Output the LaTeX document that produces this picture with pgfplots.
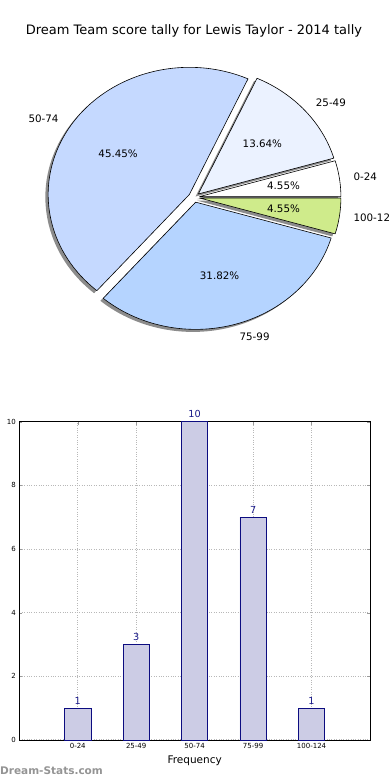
\documentclass[border=0pt]{standalone}
\usepackage{pgfplots}
\pgfplotsset{compat=1.18}
\usepackage{pgfplotstable}
\usepackage{fontspec}
\setmainfont{DejaVu Sans}
\definecolor{pieA}{HTML}{FFFFFF}
\definecolor{pieB}{HTML}{EBF2FF}
\definecolor{pieC}{HTML}{C5D9FF}
\definecolor{pieD}{HTML}{B5D4FF}
\definecolor{pieE}{HTML}{CFEB8B}
\definecolor{barfill}{HTML}{CCCCE5}
\definecolor{baredge}{HTML}{0C0C80}
\definecolor{valblue}{HTML}{1A1A8A}
\definecolor{shadowgray}{HTML}{8C8C8C}

\pgfplotstableread{
label count color
0-24 1 pieA
25-49 3 pieB
50-74 10 pieC
75-99 7 pieD
100-124 1 pieE
}\piedata

\pgfplotstableread{
x count
0 1
1 3
2 10
3 7
4 1
}\bardata

\def\rx{141.2pt}
\def\ry{127.2pt}
\def\expl{0.04}

\begin{document}
\begin{tikzpicture}
\coordinate (pieSW) at (0pt,423.7pt);
\coordinate (barSW) at (19.3pt,40pt);
\node[anchor=base, font=\fontsize{13}{15}\selectfont] at (194pt,745.5pt) {Dream Team score tally for Lewis Taylor - 2014 tally};

% total of counts
\gdef\pietotal{0}
\pgfplotstableforeachcolumnelement{count}\of\piedata\as\c{%
  \pgfmathsetmacro\t{\pietotal+\c}\xdef\pietotal{\t}}

\begin{axis}[at={(pieSW)}, anchor=south west, scale only axis,
  width=389.9pt, height=318pt,
  xmin=-1.375, xmax=1.387, ymin=-1.25, ymax=1.25, hide axis, clip=false]
\pgfplotsextra{%
  % shadows
  \gdef\piecum{0}%
  \foreach \i in {0,...,4}{%
    \pgfplotstablegetelem{\i}{count}\of\piedata \let\cnt\pgfplotsretval
    \pgfmathsetmacro{\a}{\piecum}%
    \pgfmathsetmacro{\b}{\piecum+360*\cnt/\pietotal}%
    \pgfmathsetmacro{\m}{(\a+\b)/2}%
    \pgfmathsetmacro{\ox}{\expl*cos(\m)-0.02}%
    \pgfmathsetmacro{\oy}{\expl*sin(\m)-0.02}%
    \xdef\piecum{\b}%
    \fill[shadowgray] (axis cs:\ox,\oy) -- ++({cos(\a)*\rx},{sin(\a)*\ry})
      arc[start angle=\a, end angle=\b, x radius=\rx, y radius=\ry] -- cycle;
  }%
  % wedges
  \gdef\piecum{0}%
  \foreach \i in {0,...,4}{%
    \pgfplotstablegetelem{\i}{count}\of\piedata \let\cnt\pgfplotsretval
    \pgfplotstablegetelem{\i}{color}\of\piedata \let\col\pgfplotsretval
    \pgfplotstablegetelem{\i}{label}\of\piedata \let\lab\pgfplotsretval
    \pgfmathsetmacro{\a}{\piecum}%
    \pgfmathsetmacro{\b}{\piecum+360*\cnt/\pietotal}%
    \pgfmathsetmacro{\m}{(\a+\b)/2}%
    \pgfmathsetmacro{\ox}{\expl*cos(\m)}%
    \pgfmathsetmacro{\oy}{\expl*sin(\m)}%
    \pgfmathsetmacro{\lx}{(\expl+1.1)*cos(\m)}%
    \pgfmathsetmacro{\ly}{(\expl+1.1)*sin(\m)}%
    \pgfmathsetmacro{\px}{(\expl+0.6)*cos(\m)}%
    \pgfmathsetmacro{\py}{(\expl+0.6)*sin(\m)}%
    \pgfmathsetmacro{\pct}{100*\cnt/\pietotal}%
    \xdef\piecum{\b}%
    \draw[fill=\col, draw=black, line width=0.6pt, line join=round] (axis cs:\ox,\oy) -- ++({cos(\a)*\rx},{sin(\a)*\ry})
      arc[start angle=\a, end angle=\b, x radius=\rx, y radius=\ry] -- cycle;
    \pgfmathparse{\lx>0 ? "west" : "east"}\let\anch\pgfmathresult
    \node[anchor=\anch, inner sep=0pt, font=\fontsize{10.3}{12}\selectfont] at (axis cs:\lx,\ly) {\lab};
    \node[inner sep=0pt, font=\fontsize{10.3}{12}\selectfont] at (axis cs:\px,\py)
      {\pgfmathprintnumber[fixed, fixed zerofill, precision=2, assume math mode=true]{\pct}\%};
  }%
}
\end{axis}

\begin{axis}[at={(barSW)}, anchor=south west, scale only axis,
  width=350.7pt, height=318.3pt,
  xmin=-1, xmax=5, ymin=0, ymax=10,
  xtick={0,1,2,3,4}, xticklabels={0-24,25-49,50-74,75-99,100-124},
  ytick={0,2,4,6,8,10},
  grid=major, grid style={dotted, black!28, line width=1pt},
  axis line style={line width=0.9pt},
  tick align=inside, major tick length=3pt, tick style={black!40},
  ticklabel style={font=\fontsize{7}{8}\selectfont},
  /pgf/number format/assume math mode=true,
  xlabel={Frequency},
  xlabel style={font=\fontsize{10.5}{12}\selectfont, at={(axis description cs:0.5,-0.0754)}, anchor=base},
  ylabel={Number of Games},
  ylabel style={font=\fontsize{10.5}{12}\selectfont, at={(axis description cs:-0.0585,0.528)}, anchor=base},
  clip=false]
\addplot[ybar, bar width=0.45, fill=barfill, draw=baredge, line width=0.8pt,
  nodes near coords,
  nodes near coords style={text=valblue, font=\fontsize{9.7}{11}\selectfont, /pgf/number format/assume math mode=true}]
  table[x=x, y=count] {\bardata};
\end{axis}

\node[anchor=west, inner sep=0pt, text=black!42, font=\bfseries\fontsize{10.5}{12}\selectfont] at (0pt,9pt) {Dream-Stats.com};
\pgfresetboundingbox
\useasboundingbox (0pt,0pt) rectangle (390pt,780pt);
\end{tikzpicture}
\end{document}
